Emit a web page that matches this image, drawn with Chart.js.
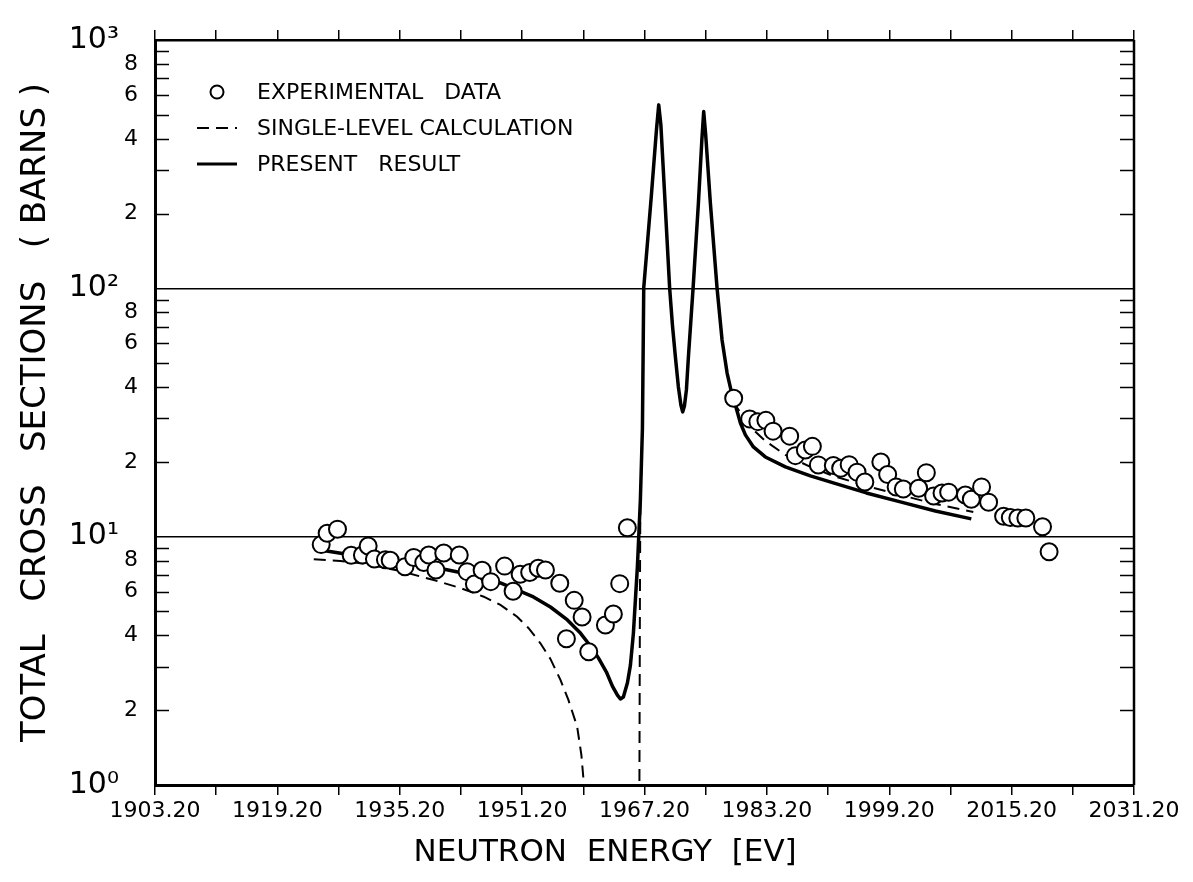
<!DOCTYPE html>
<html>
<head>
<meta charset="utf-8">
<script src="https://cdn.jsdelivr.net/npm/chart.js@4.4.1/dist/chart.umd.min.js"></script>
<style>
  html, body { margin: 0; padding: 0; background: #fff; }
  #wrap { width: 1193px; height: 882px; position: relative; }
</style>
</head>
<body>
<div id="wrap"><canvas id="c"></canvas></div>
<script>
// ---------- data ----------
const expEnergy = [
  1924.93, 1925.71, 1927.06, 1928.85, 1930.32, 1931.07, 1931.89, 1933.33, 1933.95, 1935.88,
  1937.03, 1938.34, 1938.99, 1939.93, 1940.95, 1942.98, 1944.01, 1944.96, 1945.97, 1947.10,
  1948.91, 1950.02, 1950.94, 1952.19, 1953.30, 1954.25, 1956.12, 1958.01, 1959.04, 1956.99,
  1959.91, 1962.09, 1963.13, 1963.96, 1964.96,
  1978.86, 1980.95, 1982.02, 1983.07, 1984.01, 1986.18, 1986.93, 1988.23, 1989.15, 1989.93,
  1991.89, 1992.85, 1993.96, 1994.99, 1996.01, 1998.10, 1998.99, 2000.10, 2001.04, 2003.04,
  2004.05, 2005.00, 2006.10, 2006.97, 2009.15, 2009.93, 2011.27, 2012.19, 2014.15, 2015.03,
  2016.01, 2017.06, 2019.24, 2020.10
];
const expSigma = [
  9.29, 10.32, 10.72, 8.42, 8.44, 9.17, 8.13, 8.08, 8.04, 7.57,
  8.25, 7.87, 8.44, 7.34, 8.60, 8.44, 7.23, 6.45, 7.32, 6.59,
  7.61, 6.03, 7.06, 7.17, 7.46, 7.34, 6.49, 5.54, 4.75, 3.88,
  3.44, 4.41, 4.88, 6.47, 10.86,
  36.1, 29.8, 29.05, 29.4, 26.6, 25.4, 21.2, 22.35, 23.1, 19.45,
  19.36, 18.86, 19.5, 18.19, 16.61, 19.99, 17.8, 15.86, 15.56, 15.66,
  18.1, 14.58, 15.0, 15.11, 14.72, 14.14, 15.86, 13.77, 12.09, 11.95,
  11.89, 11.89, 10.97, 8.70
];

const presentEnergy = [
  1924.83, 1928.10, 1930.98, 1935.29, 1939.61, 1944.05, 1948.36, 1952.68, 1954.90, 1957.12,
  1958.82, 1960.13, 1961.17, 1962.22, 1963.00, 1963.66, 1964.05, 1964.44, 1964.97, 1965.36,
  1965.75, 1966.01, 1966.27, 1966.66, 1966.93, 1967.10, 1968.08, 1968.76, 1969.06, 1969.34,
  1969.80, 1970.49, 1970.85, 1971.24, 1971.63, 1971.96, 1972.19, 1972.42, 1972.68, 1972.94,
  1973.55, 1974.25, 1974.70, 1974.94, 1975.20, 1975.81, 1976.69, 1977.34, 1978.00, 1978.56,
  1979.08, 1979.74, 1980.39, 1981.44, 1983.00, 1985.62, 1988.89, 1991.89, 1996.21, 2000.65,
  2005.23, 2009.93
];
const presentSigma = [
  8.84, 8.52, 8.21, 7.91, 7.55, 7.07, 6.51, 5.72, 5.21, 4.62,
  4.09, 3.63, 3.25, 2.85, 2.50, 2.30, 2.22, 2.26, 2.58, 3.04,
  4.09, 5.56, 7.55, 14.05, 27.4, 100.4, 233, 434, 548, 455,
  249, 100, 71.2, 52.9, 40.1, 33.9, 31.8, 33.6, 39.0, 52.9,
  100, 221, 396, 515, 415, 221, 100, 62.0, 45.6, 38.3,
  33.9, 28.7, 25.7, 22.98, 20.94, 19.09, 17.56, 16.46, 15.00, 13.80,
  12.69, 11.79
];

const singleEnergy = [
  1923.96, 1927.45, 1930.94, 1935.29, 1939.64, 1943.14, 1946.18, 1948.36, 1950.55, 1952.02,
  1953.59, 1954.90, 1956.21, 1957.25, 1958.39, 1958.95, 1959.34, 1959.48,
  1963.00,
  1966.53, 1966.60, 1966.66, 1966.93, 1967.10, 1968.08, 1968.76, 1969.06, 1969.34, 1969.80,
  1970.49, 1970.85, 1971.24, 1971.63, 1971.96, 1972.19, 1972.42, 1972.68, 1972.94, 1973.55,
  1974.25, 1974.70, 1974.94, 1975.20, 1975.81, 1976.69, 1977.34, 1978.00, 1978.56, 1979.08,
  1980.13, 1981.44, 1983.00, 1985.62, 1988.89, 1991.89, 1996.21, 2000.65, 2005.23, 2010.19
];
const singleSigma = [
  8.11, 7.98, 7.76, 7.27, 6.69, 6.21, 5.73, 5.31, 4.76, 4.29,
  3.72, 3.22, 2.65, 2.20, 1.72, 1.32, 0.955, 0.72,
  null,
  0.87, 5.56, 14.05, 27.4, 100.4, 233, 434, 548, 455, 249,
  100, 71.2, 52.9, 40.1, 33.9, 31.8, 33.6, 39.0, 52.9, 100,
  221, 396, 515, 415, 221, 100, 62.0, 45.6, 38.3, 33.9,
  30.35, 26.9, 24.3, 21.33, 19.09, 17.56, 16.01, 14.72, 13.54, 12.58
];

const xTickValues = [1903.2, 1911.2, 1919.2, 1927.2, 1935.2, 1943.2, 1951.2, 1959.2, 1967.2,
                     1975.2, 1983.2, 1991.2, 1999.2, 2007.2, 2015.2, 2023.2, 2031.2];
const xTickLabels = ['1903.20', '', '1919.20', '', '1935.20', '', '1951.20', '', '1967.20',
                     '', '1983.20', '', '1999.20', '', '2015.20', '', '2031.20'];
const yTickValues = [1, 2, 4, 6, 8, 10, 20, 40, 60, 80, 100, 200, 400, 600, 800, 1000];
const yTickLabels = ['10\u2070', '2', '4', '6', '8', '10\u00B9', '2', '4', '6', '8',
                     '10\u00B2', '2', '4', '6', '8', '10\u00B3'];
const yMinorTicks = [2, 3, 4, 5, 6, 7, 8, 9, 20, 30, 40, 50, 60, 70, 80, 90,
                     200, 300, 400, 500, 600, 700, 800, 900];
const yGridValues = [10, 100];

const seriesNames = ['EXPERIMENTAL   DATA', 'SINGLE-LEVEL CALCULATION', 'PRESENT   RESULT'];

// ---------- helpers ----------
const FONT = "'DejaVu Sans', sans-serif";
const zip = (xs, ys) => xs.map((x, i) => ({ x: x, y: ys[i] }));
const near = (a, b) => Math.abs(a - b) < 1e-6;
const idxOf = (arr, v) => arr.findIndex(a => near(a, v));
const isDecadeLabel = v => { const i = idxOf(yTickValues, v); return i >= 0 && yTickLabels[i].startsWith('10'); };

const insetLegend = {
  id: 'insetLegend',
  afterDraw(chart) {
    const ctx = chart.ctx, ca = chart.chartArea;
    ctx.save();
    chart.data.datasets.forEach((ds, i) => {
      const y = ca.top + 52 + 36 * i;
      const cx = ca.left + 62;
      ctx.strokeStyle = '#000';
      if (!ds.showLine) {
        ctx.lineWidth = ds.pointBorderWidth;
        ctx.setLineDash([]);
        ctx.beginPath();
        ctx.arc(cx, y, 6.5, 0, Math.PI * 2);
        ctx.fillStyle = '#fff';
        ctx.fill();
        ctx.stroke();
      } else {
        ctx.lineWidth = Math.min(ds.borderWidth, 3);
        ctx.setLineDash(ds.borderDash || []);
        ctx.beginPath();
        ctx.moveTo(cx - 20, y);
        ctx.lineTo(cx + 20, y);
        ctx.stroke();
      }
      ctx.setLineDash([]);
      ctx.fillStyle = '#000';
      ctx.font = '22px ' + FONT;
      ctx.textBaseline = 'middle';
      ctx.textAlign = 'left';
      ctx.fillText(ds.label, ca.left + 102, y + 1);
    });
    ctx.restore();
  }
};

const frameTicks = {
  id: 'frameTicks',
  afterDraw(chart) {
    const ctx = chart.ctx, ca = chart.chartArea, ys = chart.scales.y;
    ctx.save();
    ctx.strokeStyle = '#000';
    ctx.lineWidth = 1.5;
    yMinorTicks.forEach(v => {
      const py = Math.round(ys.getPixelForValue(v)) + 0.5;
      ctx.beginPath();
      ctx.moveTo(ca.left, py); ctx.lineTo(ca.left + 14, py);
      ctx.moveTo(ca.right, py); ctx.lineTo(ca.right - 14, py);
      ctx.stroke();
    });
    ctx.lineWidth = 2.5;
    ctx.beginPath();
    ctx.moveTo(ca.right, ca.top); ctx.lineTo(ca.right, ca.bottom);
    ctx.stroke();
    ctx.restore();
  }
};

const data = {
  datasets: [
    {
      label: seriesNames[0],
      data: zip(expEnergy, expSigma),
      showLine: false,
      pointRadius: 8.5,
      pointBorderWidth: 2,
      pointBackgroundColor: '#fff',
      pointBorderColor: '#000',
      borderColor: '#000',
      order: 0
    },
    {
      label: seriesNames[1],
      data: zip(singleEnergy, singleSigma),
      showLine: true,
      spanGaps: false,
      borderColor: '#000',
      borderWidth: 2,
      borderDash: [12, 7],
      pointRadius: 0,
      tension: 0,
      clip: 0,
      order: 2
    },
    {
      label: seriesNames[2],
      data: zip(presentEnergy, presentSigma),
      showLine: true,
      borderColor: '#000',
      borderWidth: 3.5,
      borderJoinStyle: 'round',
      pointRadius: 0,
      tension: 0,
      clip: 0,
      order: 1
    }
  ]
};

new Chart(document.getElementById('c'), {
  type: 'scatter',
  data: data,
  plugins: [insetLegend, frameTicks],
  options: {
    responsive: true,
    maintainAspectRatio: false,
    animation: false,
    devicePixelRatio: 1,
    layout: { padding: { left: 0, right: 59, top: 0, bottom: 0 } },
    plugins: { legend: { display: false }, tooltip: { enabled: false } },
    scales: {
      x: {
        type: 'linear', position: 'bottom', min: 1903.2, max: 2031.2,
        afterBuildTicks: s => { s.ticks = xTickValues.map(v => ({ value: v })); },
        afterFit: s => { s.height = 97; },
        ticks: {
          autoSkip: false, maxRotation: 0, minRotation: 0, padding: 3, color: '#000',
          font: { family: FONT, size: 22 },
          callback: v => { const i = idxOf(xTickValues, v); return i >= 0 ? xTickLabels[i] : ''; }
        },
        grid: { drawOnChartArea: false, drawTicks: true, tickLength: 10, color: '#000', lineWidth: 1.5 },
        border: { display: true, color: '#000', width: 3 },
        title: {
          display: true, text: 'NEUTRON  ENERGY  [EV]        ', color: '#000',
          font: { family: FONT, size: 31 }, padding: { top: 0, bottom: 10 }
        }
      },
      xTop: {
        type: 'linear', position: 'top', axis: 'x', min: 1903.2, max: 2031.2,
        afterBuildTicks: s => { s.ticks = xTickValues.map(v => ({ value: v })); },
        afterFit: s => { s.height = 40; },
        ticks: { display: false },
        grid: { drawOnChartArea: false, drawTicks: true, tickLength: 10, color: '#000', lineWidth: 1.5 },
        border: { display: true, color: '#000', width: 2.5 }
      },
      y: {
        type: 'logarithmic', position: 'left', min: 1, max: 1000,
        afterBuildTicks: s => { s.ticks = yTickValues.map(v => ({ value: v })); },
        afterFit: s => { s.width = 155; },
        ticks: {
          autoSkip: false, padding: 17, color: '#000',
          font: c => ({ family: FONT, size: (c.tick && isDecadeLabel(c.tick.value)) ? 30 : 22 }),
          callback: v => { const i = idxOf(yTickValues, v); return i < 0 ? '' : (yTickLabels[i].startsWith('10') ? yTickLabels[i] + '  ' : yTickLabels[i]); }
        },
        grid: {
          drawTicks: false,
          color: c => (c.tick && yGridValues.some(g => near(g, c.tick.value))) ? '#000' : 'rgba(0,0,0,0)',
          lineWidth: 1.5
        },
        border: { display: true, color: '#000', width: 3 },
        title: {
          display: true, text: 'TOTAL   CROSS   SECTIONS   ( BARNS )', color: '#000',
          font: { family: FONT, size: 34 }, padding: { top: 16, bottom: 0 }
        }
      }
    }
  }
});
</script>
</body>
</html>
